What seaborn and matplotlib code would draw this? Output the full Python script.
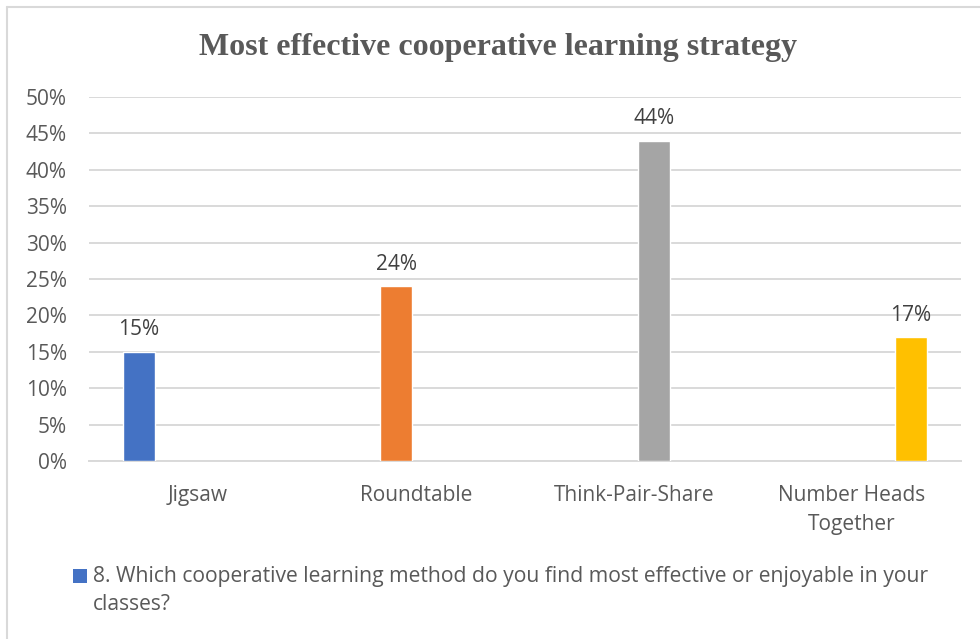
import matplotlib
matplotlib.use("Agg")
import matplotlib.pyplot as plt
from matplotlib.lines import Line2D
from matplotlib.patches import Rectangle
from matplotlib.ticker import FixedLocator, FuncFormatter
import pandas as pd
import seaborn as sns

# Survey results
strategies = ["Jigsaw", "Roundtable", "Think-Pair-Share", "Number Heads\nTogether"]
shares = [0.15, 0.24, 0.44, 0.17]
bar_colors = ["#4472C4", "#ED7D31", "#A5A5A5", "#FFC000"]
y_ticks = [0.00, 0.05, 0.10, 0.15, 0.20, 0.25, 0.30, 0.35, 0.40, 0.45, 0.50]
title_text = "Most effective cooperative learning strategy"
legend_text = ("8. Which cooperative learning method do you find most effective or enjoyable in your\n"
               "classes?")

sns.set_theme(style="white")
plt.rcParams["font.family"] = ["Open Sans", "DejaVu Sans"]

W, H = 980, 639
fs = 15
fig = plt.figure(figsize=(W / 100, H / 100), dpi=100)
ax = fig.add_axes([89 / W, (H - 461) / H, (961 - 89) / W, (461 - 97) / H])

df = pd.DataFrame({"strategy": strategies, "share": shares})
sns.barplot(data=df, x="strategy", y="share", hue="strategy",
            hue_order=strategies, order=strategies, palette=bar_colors,
            width=0.7216, gap=0.186, dodge=True, legend=False,
            saturation=1, ax=ax, zorder=3)

text_col = "#595959"
grid_col = "#D9D9D9"

ax.set_xlim(-0.5, len(strategies) - 0.5)
ax.set_ylim(0, 0.5)
ax.yaxis.set_major_locator(FixedLocator(y_ticks))
ax.yaxis.set_major_formatter(FuncFormatter(lambda v, _: f"{v * 100:.0f}%"))
ax.grid(axis="y", color=grid_col, linewidth=1.4, zorder=0)
ax.grid(axis="x", visible=False)
ax.set_axisbelow(True)
for side in ("top", "right", "left"):
    ax.spines[side].set_visible(False)
ax.spines["bottom"].set_color(grid_col)
ax.spines["bottom"].set_linewidth(1.4)

ax.tick_params(axis="y", length=0, pad=16, labelsize=fs, labelcolor=text_col)
ax.tick_params(axis="x", which="major", length=0, pad=17, labelsize=fs, labelcolor=text_col)
ax.set_xticks(range(len(strategies)))
ax.set_xticklabels(strategies, linespacing=1.5)
ax.set_xticks([i - 0.5 for i in range(len(strategies) + 1)], minor=True)
ax.tick_params(axis="x", which="minor", length=5.5, width=1.4, color=grid_col)
ax.set_xlabel("")
ax.set_ylabel("")

# Value labels above each bar
for cont in ax.containers:
    for bar in cont:
        h = bar.get_height()
        if h > 0:
            ax.annotate(f"{h * 100:.0f}%", (bar.get_x() + bar.get_width() / 2, h),
                        xytext=(0, 12), textcoords="offset points",
                        ha="center", va="baseline", fontsize=fs, color="#404040")

fig.text(498 / W, 1 - 48 / H, title_text, ha="center", va="center",
         fontsize=23, fontweight="bold", color=text_col,
         family=["Liberation Serif", "DejaVu Serif"])

# Series legend below the plot: swatch beside the first line of the label
fig.add_artist(Rectangle((73 / W, 1 - 583 / H), 14 / W, 14 / H,
                         facecolor="#4472C4", edgecolor="none",
                         transform=fig.transFigure))
fig.text(93 / W, 1 - 566 / H, legend_text, ha="left", va="top",
         fontsize=15.2, color=text_col, linespacing=1.45,
         transform=fig.transFigure)

# Chart area border (top and left edges)
fig.add_artist(Line2D([7 / W, 1], [1 - 7 / H, 1 - 7 / H], color=grid_col, linewidth=1.5,
                      transform=fig.transFigure))
fig.add_artist(Line2D([7 / W, 7 / W], [0, 1 - 7 / H], color=grid_col, linewidth=1.5,
                      transform=fig.transFigure))

fig.savefig("out.png", dpi=100, facecolor="white")
